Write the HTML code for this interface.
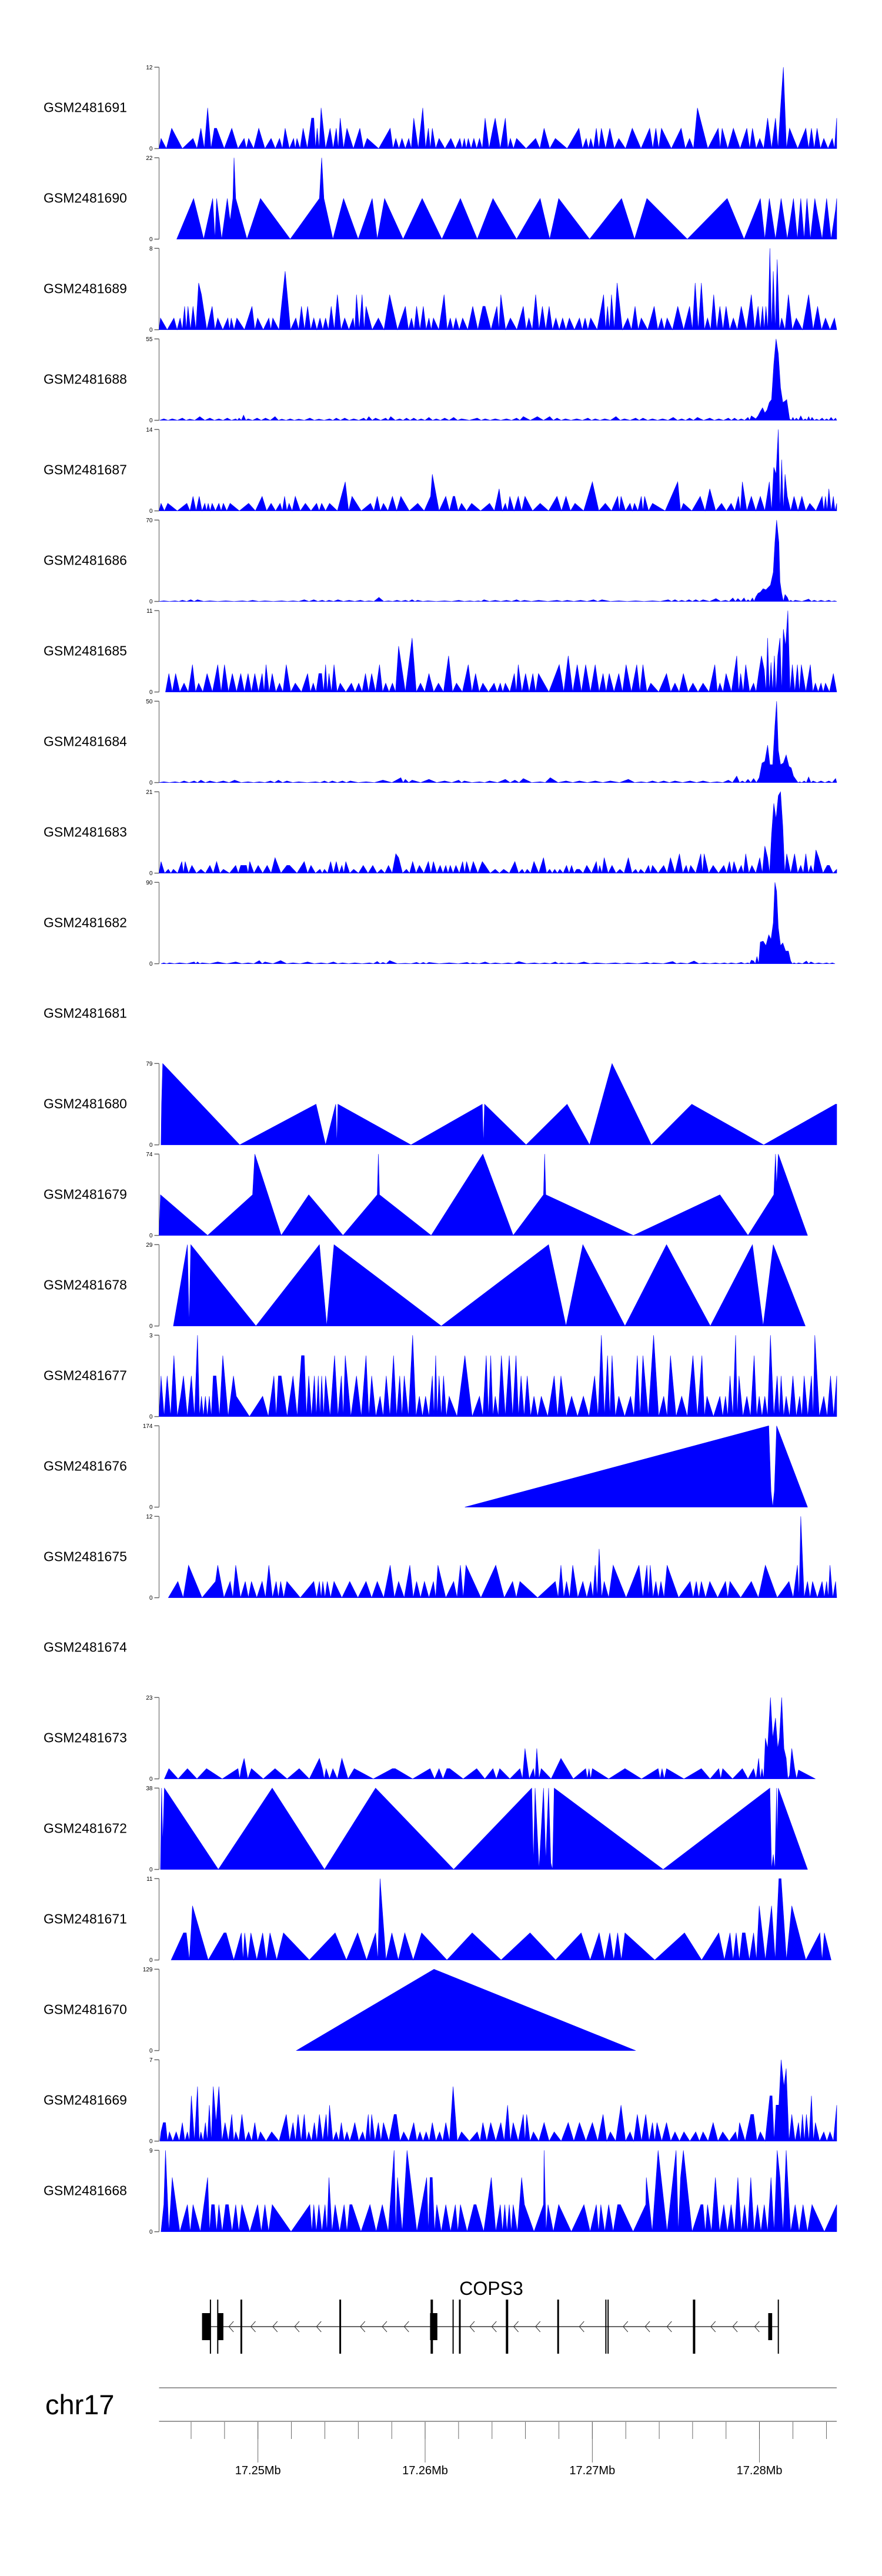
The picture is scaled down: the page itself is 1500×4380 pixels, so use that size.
<!DOCTYPE html>
<html><head><meta charset="utf-8"><title>COPS3 coverage tracks</title>
<style>
html,body{margin:0;padding:0;background:#fff;}
svg{display:block;font-family:"Liberation Sans",Arial,sans-serif;}
</style></head>
<body>
<svg id="chart" width="1500" height="4380" viewBox="0 0 1500 4380" xmlns="http://www.w3.org/2000/svg">
<rect x="0" y="0" width="1500" height="4380" fill="#fff"/>
<g id="tracks"></g>
<g id="gene"></g>
<g id="axis"></g>
</svg>
<script>
// ---- data (positions in 33.6 bp bins from 17.234624 Mb) ----
const ORIGIN_MB = 17.234624;
const BIN_MB = 0.0000336;
const sampleIds = ["GSM2481691","GSM2481690","GSM2481689","GSM2481688","GSM2481687","GSM2481686","GSM2481685","GSM2481684","GSM2481683","GSM2481682","GSM2481681","GSM2481680","GSM2481679","GSM2481678","GSM2481677","GSM2481676","GSM2481675","GSM2481674","GSM2481673","GSM2481672","GSM2481671","GSM2481670","GSM2481669","GSM2481668"];
const yMax = [12,22,8,55,14,70,11,50,21,90,null,79,74,29,3,174,12,null,23,38,11,129,7,9];

const pos1691=[285,304,342,356,368,380,384,411,433,441,459,481,496,506,521,527,538,553,557,563,570,586,597,604,616,639,652,693,703,714,726,735,751,761,768,780,801,817,825,832,842,852,862,876,880,898,907,918,952,967,987,1029,1042,1050,1060,1069,1084,1100,1124,1155,1166,1176,1211,1226,1240,1277,1284,1304,1328,1338,1351,1365,1379,1388,1393,1404,1433,1443,1453,1465,1480,1488];
const val1691=[1.5,3,1.5,3,6,3,3,3,1.5,1.5,3,1.5,1.5,3,1.5,1.5,3,4.5,4.5,3,6,3,3,4.5,3,3,1.5,3,1.5,1.5,1.5,4.5,6,3,3,1.5,1.5,1.5,1.5,1.5,1.5,1.5,4.5,3,4.5,4.5,1.5,1.5,1.5,3,1.5,3,1.5,1.5,3,3,3,1.5,3,3,3,3,3,1.5,6,3,3,3,3,3,1.5,4.5,4.5,6,12,3,3,3,3,1.5,1.5,4.5];

const pos1690=[313,343,361,377,381,384,393,403,408,413,415,418,438,462,515,567,571,575,591,610,636,661,670,683,716,750,785,818,848,876,918,960,977,993,1048,1105,1128,1150,1222,1293,1323,1352,1360,1368,1379,1389,1400,1411,1418,1424,1430,1435,1441,1449,1462,1470,1478,1486,1488];
const val1690=[0,11,0,11,0,11,0,11,5,11,22,11,0,11,0,11,22,11,0,11,0,11,0,11,0,11,0,11,0,11,0,11,0,11,0,11,0,11,0,11,0,11,0,11,0,11,0,11,0,11,0,11,0,11,0,11,0,8,11];

const pos1689=[284,308,319,327,333,342,352,357,376,386,404,410,420,447,457,477,484,506,525,535,546,557,568,578,588,599,612,627,633,643,650,672,692,720,731,740,752,762,770,789,800,810,822,840,858,862,883,890,907,930,940,952,964,976,988,1000,1012,1030,1040,1050,1073,1080,1087,1097,1116,1129,1140,1163,1176,1186,1205,1226,1236,1247,1258,1269,1280,1291,1304,1318,1336,1348,1356,1362,1369,1375,1382,1390,1402,1416,1438,1454,1468,1484];
const val1689=[1.15,1.15,1.15,2.3,2.3,2.3,4.6,3.45,2.3,1.15,1.15,1.15,1.15,2.3,1.15,1.15,1.15,5.75,1.15,2.3,2.3,1.15,1.15,1.15,2.3,3.45,1.15,1.15,3.45,3.45,2.3,1.15,3.45,2.3,1.15,2.3,2.3,1.15,1.15,3.45,1.15,1.15,1.15,2.3,2.3,2.3,2.3,3.45,1.15,2.3,1.15,3.45,2.3,2.3,1.15,1.15,1.15,1.15,1.15,1.15,3.45,2.3,3.45,4.6,1.15,2.3,1.15,2.3,1.15,1.15,2.3,2.3,4.6,4.6,1.15,3.45,2.3,2.3,1.15,2.3,3.45,2.3,2.3,2.3,8,5.75,6.9,1.15,3.45,1.15,3.45,2.3,1.15,1.15];

const pos1688=[290,305,323,336,354,372,388,403,418,424,432,440,456,471,488,500,515,530,550,566,585,597,612,628,646,655,667,685,694,710,722,735,748,762,775,790,806,820,848,862,880,900,918,930,955,977,990,1005,1025,1045,1058,1075,1095,1110,1130,1143,1160,1178,1197,1212,1226,1240,1262,1278,1295,1306,1318,1330,1336,1340,1344,1348,1352,1356,1360,1364,1368,1372,1376,1380,1384,1388,1392,1396,1399,1404,1410,1416,1424,1432,1438,1444,1452,1462,1470,1478,1486];
const val1688=[1,1,1.5,0.8,2.5,1.5,1,1.5,1,1.5,3.5,1,1.5,1.5,2.5,0.8,1,0.8,1.5,0.8,1,1.5,1.5,1,1.5,2.5,1.5,1.5,2.5,1,1.5,1.5,1,2,1,1.5,2,1,1.5,1,1,1,1.5,2.5,2.5,2.5,1.5,1,1,1.5,1,1,2.5,1,1.5,1.5,1,1,2,1,1.5,2,1.5,1,1.5,1.5,1,2,3,2,1,3,6,8.5,5,7,12,14,38,55,45,22,12,13,14,1,2,1.5,3,1,2.5,2,0.8,1.5,1,2,1.5];

const pos1687=[285,297,331,342,353,363,369,376,388,396,408,441,465,481,497,505,513,524,542,562,571,585,613,625,658,670,681,697,712,742,765,768,792,805,808,820,838,870,887,898,906,921,933,960,990,1006,1022,1053,1076,1098,1104,1120,1128,1140,1146,1160,1205,1215,1245,1262,1283,1300,1313,1320,1336,1352,1368,1376,1380,1384,1390,1396,1400,1412,1426,1440,1462,1468,1474,1482,1488];
const val1687=[1.3,1.3,1.3,2.5,2.5,1.3,1.3,1.3,1.3,1.3,1.3,1.3,2.5,1.3,1.3,2.5,1.3,2.5,1.3,1.3,1.3,1.3,5,2.5,1.3,2.5,1.3,2.5,2.5,1.3,2.5,6.3,2.5,2.5,2.5,1.3,1.3,1.3,3.8,1.3,2.5,2.5,2.5,1.3,2.5,2.5,1.3,5,1.3,2.5,2.5,1.3,1.3,2.5,2.5,1.3,5,1.3,2.5,3.8,1.3,1.3,2.5,5,2.5,2.5,5,7.5,6.3,14,8.8,6.3,2.5,2.5,2.5,1.3,2.5,2.5,3.8,2.5,1.3];

const pos1686=[290,310,323,338,350,372,400,430,448,470,500,520,540,557,572,584,600,620,640,655,673,690,705,720,732,742,760,790,815,835,850,860,880,900,918,932,957,990,1008,1032,1055,1070,1100,1130,1160,1188,1200,1212,1225,1237,1250,1273,1290,1303,1312,1323,1330,1338,1344,1348,1352,1357,1362,1366,1370,1375,1378,1381,1385,1387,1390,1396,1400,1406,1414,1438,1448,1460,1474,1484];
const val1686=[0.5,0.5,1,1.5,1.5,0.5,0.5,0.5,1,0.5,0.5,0.5,1.5,1.5,1,1,1.5,1,1,0.5,3.5,0.5,1,1,1.5,1,0.5,0.5,1,0.5,0.5,1.5,1,1,1.5,1,1,1,1,1,1.5,1.5,0.5,0.5,0.5,1.5,1.5,1,1.5,1.5,1.5,2.5,1,3,2.5,3,1.5,3,4,7,8,11,10,12,14,25,51,70,51,17,7,6,3.5,1,1,2,1,1,1,0.5];

const pos1685=[299,311,326,341,352,367,386,398,412,427,440,452,465,472,483,496,508,524,546,556,566,571,578,584,593,604,624,637,649,660,674,685,697,708,732,747,762,779,797,811,832,845,858,878,889,898,914,921,934,947,957,994,1010,1026,1041,1058,1072,1083,1100,1113,1132,1143,1157,1185,1200,1215,1232,1250,1271,1280,1291,1310,1317,1326,1340,1349,1354,1359,1365,1371,1377,1383,1387,1393,1397,1401,1409,1418,1425,1441,1450,1460,1468,1482];
const val1685=[2.5,2.5,1.2,3.7,1.2,2.5,3.7,3.7,2.5,2.5,2.5,2.5,2.5,3.7,2.5,1.2,3.7,1.2,2.5,1.2,2.5,2.5,3.7,2.5,3.7,1.2,1.2,1.2,2.5,2.5,3.7,1.2,1.2,6.2,7.3,1.2,2.5,1.2,4.9,1.2,3.7,2.5,1.2,1.2,1.2,1.2,2.5,3.7,2.5,2.5,2.5,3.7,4.9,3.7,3.7,3.7,2.5,2.5,2.5,3.7,3.7,3.7,1.2,2.5,1.2,2.5,1.2,1.2,3.7,1.2,2.5,4.9,2.5,3.7,1.2,2.5,4.9,3,7.3,4,4.9,4.9,7.3,8.5,6.2,11,3.7,3.7,3.7,3.7,1.2,1.2,1.2,2.5];

const pos1684=[290,310,326,344,356,372,396,416,440,460,480,494,509,530,560,576,590,608,622,650,680,712,720,732,762,790,815,825,852,870,898,915,930,960,978,1006,1030,1058,1085,1117,1140,1160,1180,1200,1227,1250,1275,1295,1310,1320,1330,1340,1350,1355,1360,1365,1369,1374,1378,1381,1384,1388,1393,1398,1403,1407,1411,1416,1422,1430,1438,1446,1460,1474,1486];
const val1684=[0.5,0.5,1,1,1.5,1,1,1.5,0.5,0.5,1,1.5,1,0.5,0.5,1,1,1,1,0.5,1.5,3,2,1.5,2,1,1.5,1,0.5,1,2,1.5,2.5,0.5,3,1,1,1,1,2,0.5,1,1,1,1,1,0.5,1.5,4,1,2,2.5,3,12,13,23,11,11,35,50,20,11,12,17,10,9,4,1.5,0.5,1,3.5,1,1,1,2.5];

const pos1683=[285,298,307,322,328,340,356,372,384,396,418,427,432,437,443,458,474,488,509,514,540,552,568,576,587,597,607,614,628,645,662,677,690,703,708,722,733,745,761,770,782,792,800,810,822,829,841,857,862,880,895,915,928,937,949,966,977,986,995,1007,1016,1025,1030,1043,1060,1066,1074,1088,1102,1117,1130,1139,1153,1160,1180,1192,1208,1220,1228,1246,1252,1268,1287,1297,1305,1318,1326,1337,1351,1360,1365,1372,1376,1380,1384,1388,1392,1399,1413,1424,1433,1442,1451,1456,1471,1475,1488];
const val1683=[3,1,1,3,3,2,1,2,3,1,2,2,2,2,3,2,2,4,2,2,3,2,1,1,3,3,2,3,1,2,2,1,2,5,4,1,3,2,3,3,2,2,2,2,3,3,3,3,2,1,1,3,1,1,3,4,1,1,1,2,2,1,1,2,3,2,4,2,1,4,1,1,2,2,2,4,5,2,2,5,5,2,2,3,3,2,5,2,4,7,4,10,18,14,20,21,12,5,5,2,5,2,6,4,2,2,1];

const pos1682=[290,300,318,344,350,358,386,418,440,460,470,498,520,546,570,592,608,630,656,670,680,692,720,740,752,762,798,830,840,862,880,903,922,950,968,987,998,1012,1038,1060,1094,1116,1150,1162,1196,1210,1234,1252,1272,1288,1300,1318,1330,1336,1340,1346,1352,1357,1362,1367,1371,1375,1378,1381,1384,1388,1392,1397,1402,1406,1412,1420,1434,1442,1456,1470,1480];
const val1682=[1,1,1,2,2,1,2,2,1,3.5,2,3.5,1,2,1,2,1,1,1,2.5,1.5,3.5,0.5,1.5,1.5,1.5,1,1.5,1,2,1,1,2.5,1,1,2,1,1,2,1,1,1,1.5,1,2.5,1,3,1,1,1,1,1.5,1,4,3,8,24,25,20,32,27,45,90,80,40,20,23,14,14,3,1,1,3,2,1,1,1];

const pos1681=[];
const val1681=[];

const pos1680=[285,286,288,425,561,578,596,598,600,730,857,859,861,935,1008,1048,1088,1158,1230,1358,1486,1488];
const val1680=[0,39.5,79,0,39.5,0,39.5,0,39.5,0,39.5,0,39.5,0,39.5,0,79,0,39.5,0,39.5,39.5];

const pos1679=[284,368,448,452,499,548,609,670,672,674,766,858,912,966,968,970,1126,1280,1330,1376,1379,1381,1384,1436];
const val1679=[37,0,37,74,0,37,0,37,74,37,0,74,0,37,74,37,0,37,0,37,74,45,74,0];

const pos1678=[307,332,335,338,454,567,580,593,784,975,1006,1036,1111,1185,1263,1338,1357,1375,1432];
const val1678=[0,29,0,29,0,29,0,29,0,29,0,29,0,29,0,29,0,29,0];

const pos1677=[285,296,308,320,325,339,350,357,364,371,378,383,395,414,419,466,486,494,499,520,535,540,548,558,565,571,578,594,606,613,633,650,660,675,686,699,710,718,733,745,756,768,774,780,788,798,826,852,864,872,880,891,905,917,926,937,949,962,985,997,1016,1037,1057,1069,1080,1088,1100,1121,1133,1143,1162,1180,1192,1212,1232,1248,1257,1280,1290,1298,1308,1314,1328,1341,1350,1360,1370,1382,1389,1398,1410,1422,1430,1443,1449,1465,1477,1488];
const val1677=[1.5,1.5,2.25,0.75,1.5,1.5,3,0.75,0.75,0.75,1.5,1.5,2.25,1.5,0.75,0.75,1.5,1.5,1.5,1.5,2.25,2.25,1.5,1.5,1.5,1.5,1.5,2.25,1.5,2.25,1.5,2.25,1.5,0.75,1.5,2.25,1.5,1.5,3,0.75,0.75,1.5,2.25,1.5,1.5,0.75,2.25,0.75,2.25,2.25,0.75,2.25,2.25,2.25,1.5,1.5,0.75,0.75,1.5,1.5,0.75,0.75,1.5,3,2.25,2.25,0.75,0.75,2.25,2.25,3,0.75,2.25,0.75,2.25,2.25,0.75,0.75,0.75,1.5,3,1.5,0.75,2.25,0.75,0.75,3,1.5,1.5,0.75,1.5,0.75,1.5,1.5,3,0.75,1.5,1.5];

const pos1676=[826,1367,1371,1377,1381,1436];
const val1676=[0,174,34,34,174,0];

const pos1675=[298,315,334,382,386,408,418,435,446,465,477,490,498,509,557,567,573,581,593,621,650,670,693,708,728,740,754,770,778,806,818,828,881,911,924,987,997,1007,1018,1036,1050,1058,1065,1074,1090,1136,1150,1156,1166,1175,1186,1227,1238,1247,1262,1290,1298,1336,1361,1403,1418,1424,1436,1445,1462,1470,1476,1486];
const val1675=[0,2.4,4.8,2.4,4.8,2.4,4.8,2.4,2.4,2.4,4.8,2.4,2.4,2.4,2.4,2.4,2.4,2.4,2.4,2.4,2.4,2.4,4.8,2.4,4.8,2.4,2.4,2.4,4.8,2.4,4.8,4.8,4.8,2.4,2.4,2.4,4.8,2.4,4.8,2.4,2.4,4.8,7.2,2.4,4.8,4.8,4.8,4.8,2.4,2.4,4.8,2.4,2.4,2.4,2.4,2.4,2.4,2.4,4.8,2.4,4.8,12,2.4,2.4,2.4,2.4,4.8,2.4];

const pos1674=[];
const val1674=[];

const pos1673=[291,299,332,366,422,428,433,446,488,531,567,572,579,591,607,629,697,702,764,780,794,799,847,876,888,924,933,948,954,962,997,1041,1047,1053,1111,1170,1177,1185,1247,1278,1285,1320,1340,1349,1355,1361,1365,1370,1374,1379,1383,1386,1390,1394,1398,1404,1408,1413,1420,1450];
const val1673=[0,2.9,2.9,2.9,2.9,2.9,5.8,2.9,2.9,2.9,5.8,2.9,2.9,2.9,5.8,2.9,2.9,2.9,2.9,2.9,2.9,2.9,2.9,2.9,2.9,2.9,8.6,2.9,8.6,2.9,5.8,2.9,2.9,2.9,2.9,2.9,2.9,2.9,2.9,2.9,2.9,2.9,2.9,5.8,2.9,11.5,8.6,23,11.5,17.2,8.6,11.5,23,8.6,5.8,1,8.6,2.9,2.5,0];

const pos1672=[284,286,288,291,387,483,576,667,806,945,948,951,958,966,970,975,979,985,1179,1369,1375,1381,1382,1384,1436];
const val1672=[0,38,12,38,0,38,0,38,0,38,3,38,0,38,4,38,3,38,0,38,7,38,12,38,0];

const pos1671=[303,325,330,341,397,401,428,434,445,466,479,503,595,635,667,675,696,719,749,839,942,1033,1065,1084,1098,1111,1217,1278,1298,1309,1320,1325,1340,1350,1372,1385,1389,1408,1458,1466,1478];
const val1671=[0,3.67,3.67,7.33,3.67,3.67,3.67,3.67,3.67,3.67,3.67,3.67,3.67,3.67,3.67,11,3.67,3.67,3.67,3.67,3.67,3.67,3.67,3.67,3.67,3.67,3.67,3.67,3.67,3.67,3.67,3.67,3.67,7.33,7.33,11,11,7.33,3.67,3.67,0];

const pos1670=[526,771,1130];
const val1670=[0,129,0];

const pos1669=[285,289,293,300,312,323,332,339,350,356,364,371,378,383,388,399,411,418,429,441,452,462,482,508,520,529,540,548,558,567,579,585,597,606,616,626,630,644,654,660,672,681,700,704,717,735,746,757,768,781,792,805,820,848,858,872,890,902,912,930,936,948,967,985,1010,1030,1053,1072,1085,1104,1120,1133,1148,1160,1168,1185,1200,1216,1237,1250,1268,1285,1308,1315,1335,1340,1352,1369,1373,1380,1385,1389,1394,1398,1408,1420,1427,1434,1443,1450,1465,1476,1488];
const val1669=[0.8,1.6,1.6,0.8,0.8,1.6,0.8,3.9,4.7,0.8,1.6,3.1,4.7,1.6,4.7,1.6,2.3,0.8,2.3,0.8,1.6,0.8,0.8,2.3,1.6,2.3,2.3,0.8,1.6,2.3,2.3,3.1,0.8,1.6,0.8,0.8,1.6,0.8,2.3,2.3,1.6,1.6,2.3,2.3,0.8,1.6,0.8,0.8,1.6,0.8,1.6,4.7,0.8,0.8,1.6,1.6,1.6,3.1,1.6,2.3,2.3,0.8,1.6,0.8,1.6,1.6,1.6,2.3,0.8,3.1,0.8,2.3,2.3,1.6,1.6,1.6,0.8,0.8,0.8,0.8,1.6,0.8,0.8,1.6,2.3,2.3,0.8,3.9,3.9,3.1,3.1,7,4.7,6.25,2.3,1.6,2.3,2.3,3.9,1.6,0.8,0.8,3.1];

const pos1668=[285,290,293,305,332,342,368,375,380,388,400,405,418,429,457,470,483,550,557,566,577,584,595,611,621,625,657,679,700,706,723,758,764,768,776,792,809,818,842,846,873,889,897,905,912,927,932,966,967,974,993,1038,1060,1068,1082,1098,1103,1148,1149,1170,1202,1210,1215,1246,1250,1258,1272,1287,1300,1312,1324,1335,1347,1359,1371,1382,1387,1398,1414,1428,1444,1466,1488];
const val1668=[0,3,9,6,3,3,6,3,3,3,3,3,3,3,3,3,3,3,3,3,3,6,3,3,3,3,3,3,9,6,9,6,6,6,3,3,3,3,3,3,6,3,3,3,3,6,3,3,9,3,3,3,3,3,3,3,3,3,6,9,9,6,9,3,3,3,6,3,3,6,3,6,3,3,6,9,6,9,3,3,3,0,3];

const trackPos=[pos1691,pos1690,pos1689,pos1688,pos1687,pos1686,pos1685,pos1684,pos1683,pos1682,pos1681,pos1680,pos1679,pos1678,pos1677,pos1676,pos1675,pos1674,pos1673,pos1672,pos1671,pos1670,pos1669,pos1668];
const trackVal=[val1691,val1690,val1689,val1688,val1687,val1686,val1685,val1684,val1683,val1682,val1681,val1680,val1679,val1678,val1677,val1676,val1675,val1674,val1673,val1672,val1671,val1670,val1669,val1668];

// gene model (bins)
const geneName = "COPS3";
const exonLines = [373,386,428,604,767,805,817,901,992,1077,1081,1234,1384];
const exonLineWidth = [2,2,3,3,4,2,3,4,3,2,2,4,2];
const exonBoxStart = [358,386,764,1366];
const exonBoxEnd = [372,396,777,1373];
const intronStart = 372;
const intronEnd = 1384;

// axis ticks
const majorTicksMb = [17.25,17.26,17.27,17.28];
const majorLabels = ["17.25Mb","17.26Mb","17.27Mb","17.28Mb"];
const minorStartMb = 17.246, minorEndMb = 17.284, minorStepMb = 0.002;
const chromName = "chr17";

// ---- layout / scales ----
const NS = "http://www.w3.org/2000/svg";
const X0 = 270.5, X1 = 1423, B0 = 281.5, B1 = 1488;
function xS(b){ return X0 + (b - B0) * (X1 - X0) / (B1 - B0); }
function mbToBin(mb){ return (mb - ORIGIN_MB) / BIN_MB; }
const TRACK_TOP0 = 114.3, TRACK_STEP = 154, TRACK_H = 138.3;
function mk(tag, attrs, parent){
  const e = document.createElementNS(NS, tag);
  for (const k in attrs) e.setAttribute(k, attrs[k]);
  parent.appendChild(e);
  return e;
}
function buildPoints(pos, val){
  const n = Math.min(pos.length, val.length);
  const pts = [];
  if (!n) return pts;
  if (val[0] > 0) {
    let left = pos[0] - (n > 1 ? (pos[1] - pos[0]) / 2 : 3);
    pts.push([Math.max(left, B0), 0]);
  }
  for (let i = 0; i < n; i++) {
    pts.push([pos[i], val[i]]);
    if (i < n - 1 && val[i] > 0 && val[i+1] > 0 && pos[i+1] - pos[i] >= 6) {
      pts.push([(pos[i] + pos[i+1]) / 2, 0]);
    }
  }
  if (val[n-1] > 0) {
    let right = pos[n-1] + (n > 1 ? (pos[n-1] - pos[n-2]) / 2 : 3);
    pts.push([Math.min(right, B1), 0]);
  }
  return pts;
}

const tracksG = document.getElementById('tracks');
sampleIds.forEach((id, k) => {
  const top = TRACK_TOP0 + TRACK_STEP * k;
  const base = top + TRACK_H;
  const g = mk('g', {}, tracksG);
  
  
  const lbl = mk('text', {x: 74, y: (top + 76).toFixed(1), 'font-size': 23, fill: '#000'}, g);
  lbl.textContent = id;
  
  
  const ymax = yMax[k];
  if (ymax == null) return;
  const yS = v => base - v / ymax * TRACK_H;
  const ax = mk('line', {x1: X0, y1: top, x2: X0, y2: base, stroke: '#555', 'stroke-width': 1}, g);
  
  
  [[ymax, top], [0, base]].forEach(([t, y]) => {
    const tk = mk('line', {x1: X0 - 8, y1: y, x2: X0, y2: y, stroke: '#666', 'stroke-width': 1.5}, g);
    
    
    const tl = mk('text', {x: X0 - 11, y: (y + 3.5).toFixed(1), 'font-size': 10, 'text-anchor': 'end', fill: '#000'}, g);
    tl.textContent = String(t);
    
    
  });
  const pts = buildPoints(trackPos[k], trackVal[k]);
  if (pts.length) {
    const d = pts.map(p => xS(p[0]).toFixed(2) + ',' + yS(p[1]).toFixed(2)).join(' ');
    const poly = mk('polygon', {points: d, fill: '#0000ff', stroke: '#0000ff', 'stroke-width': 0.6, 'stroke-linejoin': 'miter'}, g);
    
    
  }
});

// gene track
const geneG = document.getElementById('gene');
const GY0 = 3910, GY1 = 4002, GM0 = 3933, GM1 = 3979, GL = 3956;
const gl = mk('text', {x: xS(873).toFixed(1), y: 3902, 'font-size': 32, 'text-anchor': 'middle', fill: '#000'}, geneG);
gl.textContent = geneName;


const il = mk('line', {x1: xS(intronStart), y1: GL, x2: xS(intronEnd), y2: GL, stroke: '#333', 'stroke-width': 1.5}, geneG);


for (let b = 410; b < intronEnd - 10; b += 39) {
  if (exonLines.some(e => Math.abs(e - b) < 8)) continue;
  const x = xS(b);
  const ch = mk('polyline', {points: `${(x+4).toFixed(1)},${GL-9} ${(x-4).toFixed(1)},${GL} ${(x+4).toFixed(1)},${GL+9}`, fill: 'none', stroke: '#333', 'stroke-width': 1}, geneG);
  
  
}
exonLines.forEach((b, i) => {
  const w = exonLineWidth[i] || 2;
  const r = mk('rect', {x: (xS(b) - w/2).toFixed(1), y: GY0, width: w, height: GY1 - GY0, fill: '#000'}, geneG);
  
  
});
exonBoxStart.forEach((s, i) => {
  const r = mk('rect', {x: xS(s).toFixed(1), y: GM0, width: (xS(exonBoxEnd[i]) - xS(s)).toFixed(1), height: GM1 - GM0, fill: '#000'}, geneG);
  
  
});

// genome axis
const axG = document.getElementById('axis');
const cl = mk('text', {x: 77, y: 4105, 'font-size': 47, fill: '#000'}, axG);
cl.textContent = chromName;


const l1 = mk('line', {x1: X0, y1: 4060, x2: X1, y2: 4060, stroke: '#999', 'stroke-width': 2}, axG);


const l2 = mk('line', {x1: X0, y1: 4117, x2: X1, y2: 4117, stroke: '#999', 'stroke-width': 2}, axG);


for (let mb = minorStartMb; mb <= minorEndMb + 1e-9; mb += minorStepMb) {
  const x = xS(mbToBin(mb));
  const t = mk('line', {x1: x.toFixed(1), y1: 4118, x2: x.toFixed(1), y2: 4147, stroke: '#444', 'stroke-width': 0.8}, axG);
  
  
}
majorTicksMb.forEach((mb, i) => {
  const x = xS(mbToBin(mb));
  const t = mk('line', {x1: x.toFixed(1), y1: 4118, x2: x.toFixed(1), y2: 4187, stroke: '#444', 'stroke-width': 0.8}, axG);
  
  
  const tl = mk('text', {x: x.toFixed(1), y: 4207, 'font-size': 20, 'text-anchor': 'middle', fill: '#000'}, axG);
  tl.textContent = majorLabels[i];
  
  
});
</script>
</body></html>
